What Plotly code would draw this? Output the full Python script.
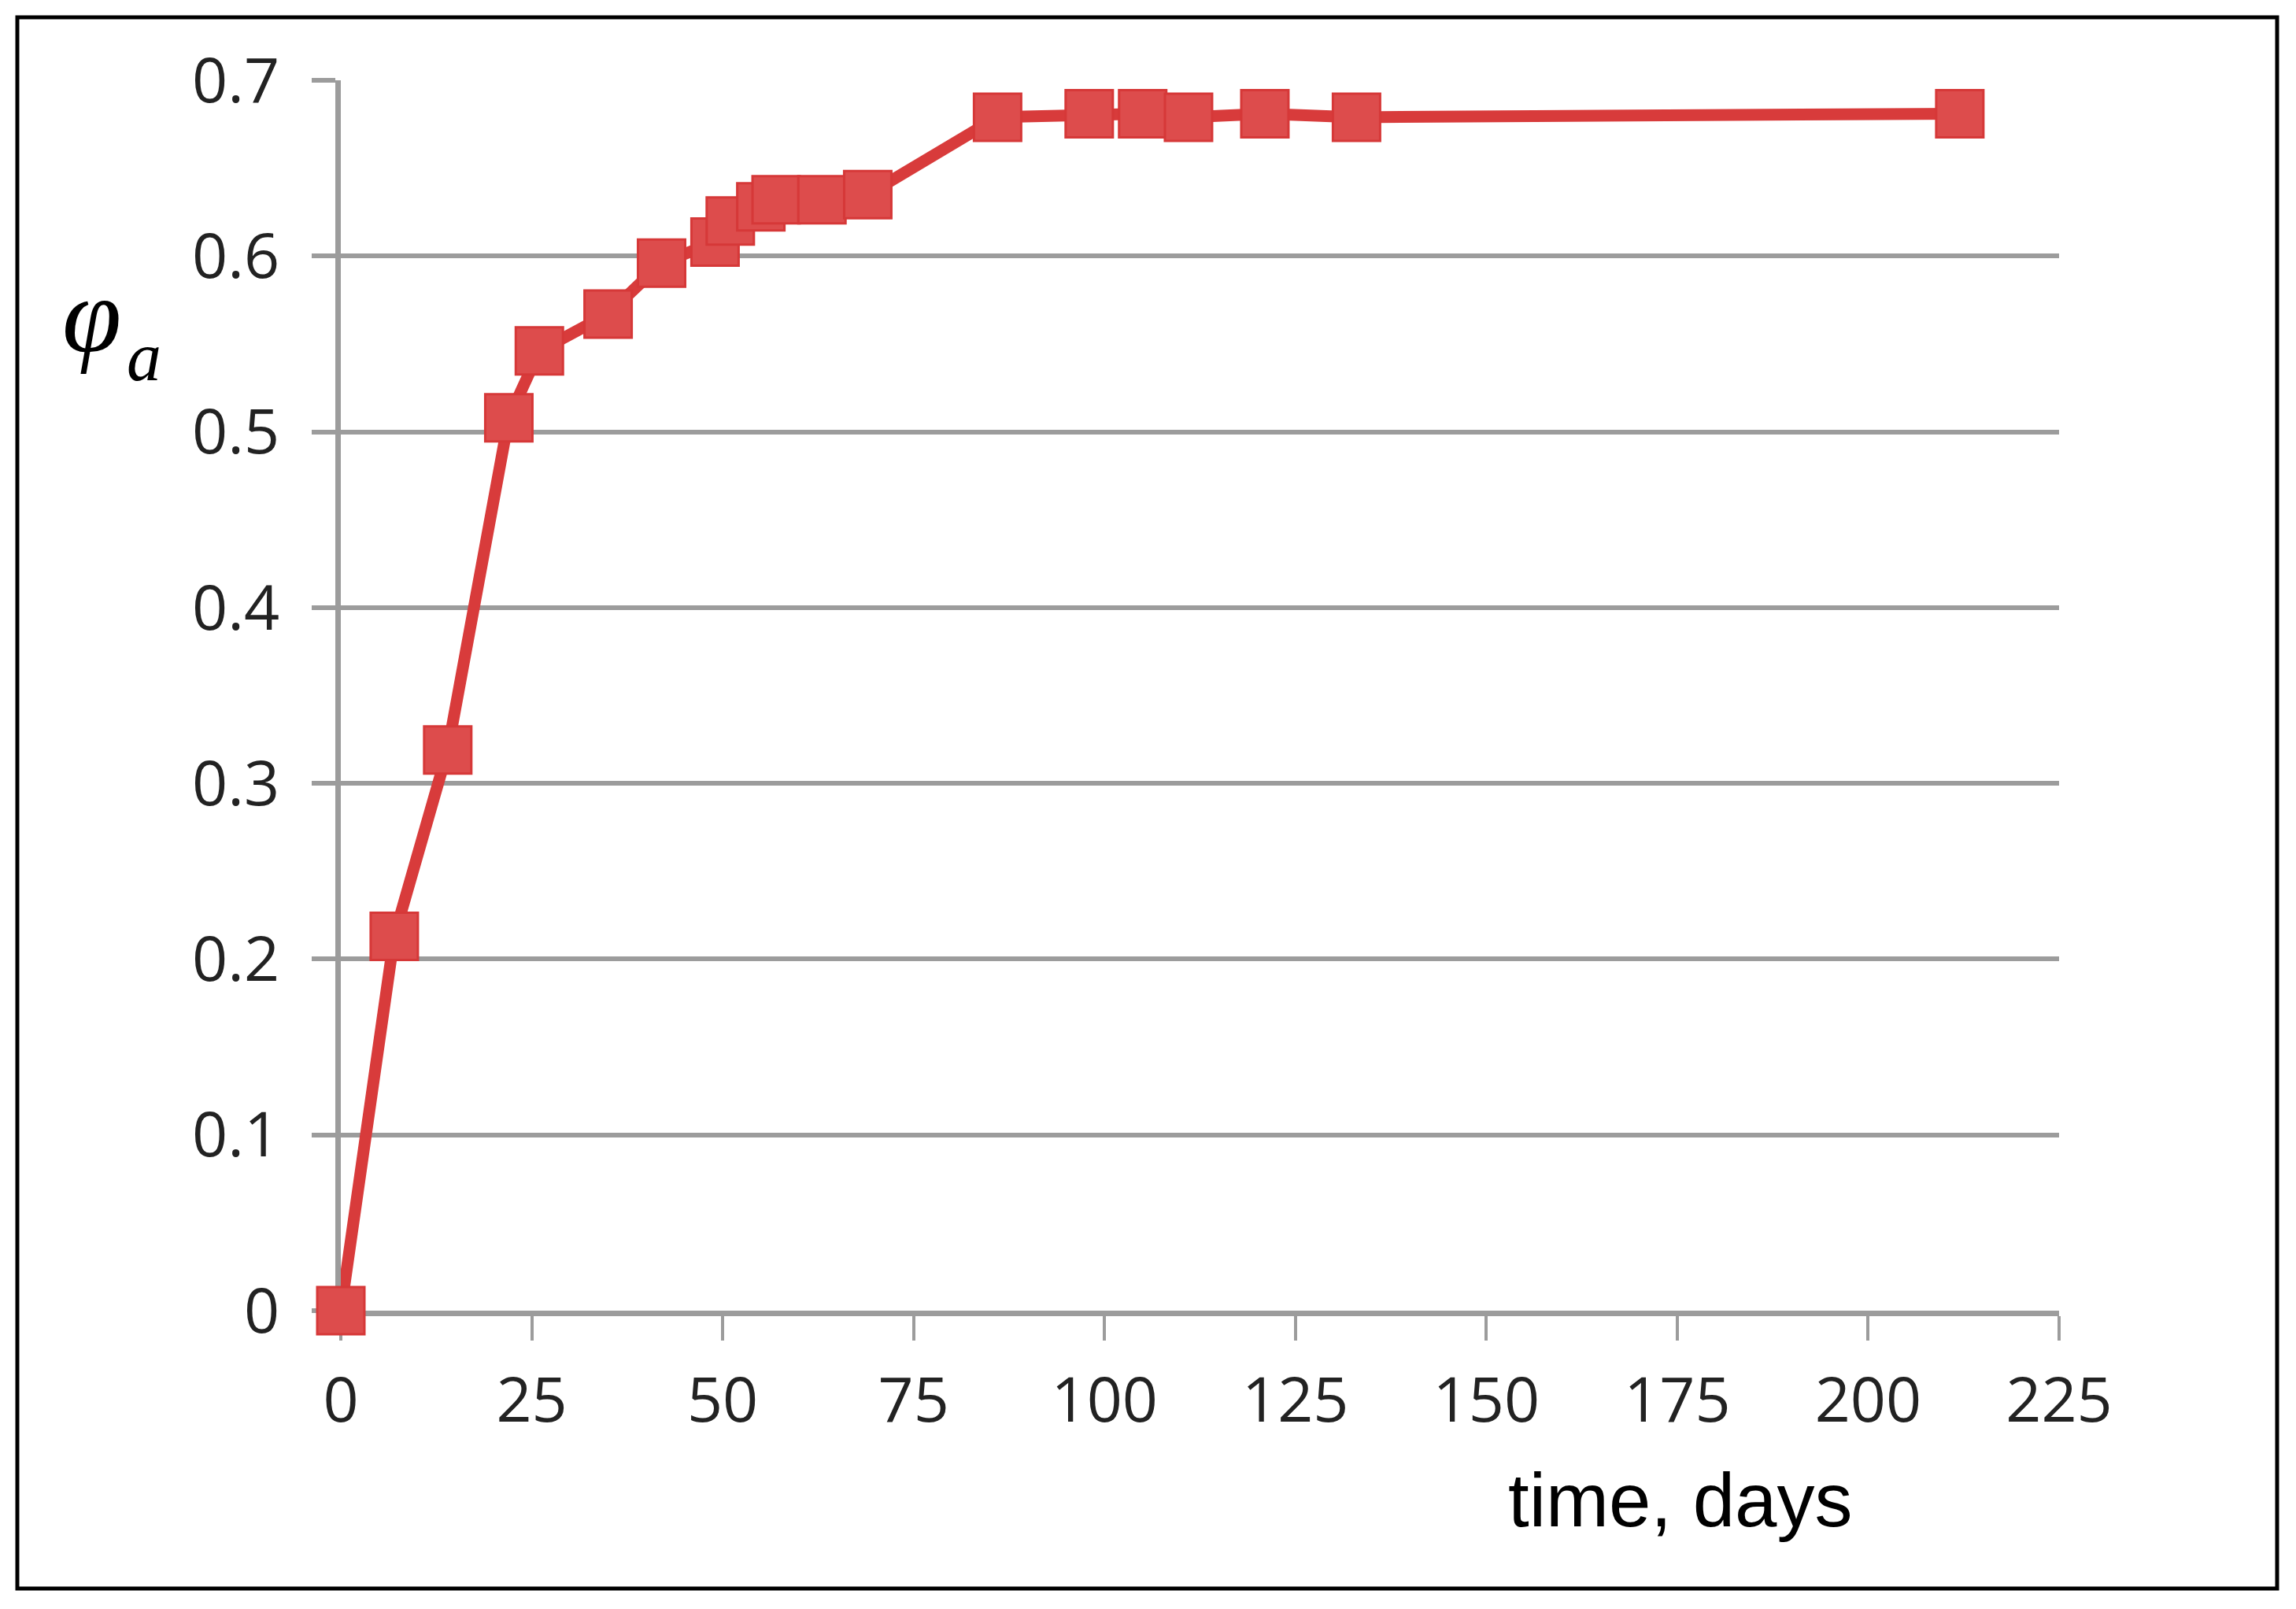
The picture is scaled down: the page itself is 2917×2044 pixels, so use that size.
import plotly.graph_objects as go

# Data
time_days = [0, 7, 14, 22, 26, 35, 42, 49, 51, 55, 57, 63, 69, 86, 98, 105, 111, 121, 133, 212]
phi_a = [0.0, 0.213, 0.319, 0.508, 0.546, 0.567, 0.596, 0.608, 0.620, 0.628, 0.632, 0.632,
         0.635, 0.679, 0.681, 0.681, 0.679, 0.681, 0.679, 0.681]
x_ticks = [0, 25, 50, 75, 100, 125, 150, 175, 200, 225]
y_ticks = [0, 0.1, 0.2, 0.3, 0.4, 0.5, 0.6, 0.7]
y_tick_labels = ["0", "0.1", "0.2", "0.3", "0.4", "0.5", "0.6", "0.7"]

# page body has an 8px margin; work in figure coordinates
O = 8
W, H = 2917 - 2 * O, 2044 - 2 * O
PL, PR, PT, PB = 433 - O, 2616 - O, 102 - O, 1665 - O  # plot-area edges in figure px
L, R, T, B = PL, W - PR, PT, H - PB
PW, PH = PR - PL, PB - PT


def px_x(px):
    return (px - O - PL) / PW


def px_y(py):
    return (PB - (py - O)) / PH


grid_col = "#9c9c9c"
tick_font = dict(family="Open Sans", size=79, color="#222222")

fig = go.Figure()
fig.add_trace(go.Scatter(
    x=time_days, y=phi_a, mode="lines+markers",
    line=dict(color="#d83b3b", width=15),
    marker=dict(symbol="square", size=60, color="#dd4c4c",
                line=dict(color="#d63838", width=3)),
    cliponaxis=False, showlegend=False,
))

fig.update_layout(
    width=W, height=H,
    margin=dict(l=L, r=R, t=T, b=B, pad=0),
    paper_bgcolor="white", plot_bgcolor="white",
    xaxis=dict(
        range=[0, 225], tickmode="array", tickvals=x_ticks,
        ticktext=[str(v) for v in x_ticks],
        showgrid=False, zeroline=False,
        showline=True, linecolor=grid_col, linewidth=7,
        ticks="outside", ticklen=31, tickwidth=4, tickcolor=grid_col,
        tickfont=tick_font, ticklabelstandoff=8,
        layer="below traces",
    ),
    yaxis=dict(
        range=[0, 0.7], tickmode="array", tickvals=y_ticks, ticktext=y_tick_labels,
        showgrid=True, gridcolor=grid_col, gridwidth=6, zeroline=False,
        showline=True, linecolor=grid_col, linewidth=7,
        ticks="outside", ticklen=30, tickwidth=6, tickcolor=grid_col,
        tickfont=tick_font, ticklabelstandoff=25,
        layer="below traces",
    ),
    shapes=[dict(type="rect", xref="paper", yref="paper",
                 x0=px_x(22), x1=px_x(2893), y0=px_y(2018), y1=px_y(22),
                 line=dict(color="black", width=5), fillcolor="rgba(0,0,0,0)",
                 layer="above")],
    annotations=[
        dict(text="time, days", xref="paper", yref="paper",
             x=px_x(2134), y=px_y(1905), xanchor="center", yanchor="middle",
             showarrow=False, font=dict(family="Liberation Sans", size=96, color="black")),
        dict(text="<i>φ</i>", xref="paper", yref="paper",
             x=px_x(116), y=px_y(400), xanchor="center", yanchor="middle",
             showarrow=False, font=dict(family="Liberation Serif", size=136, color="black")),
        dict(text="<i>a</i>", xref="paper", yref="paper",
             x=px_x(183), y=px_y(453), xanchor="center", yanchor="middle",
             showarrow=False, font=dict(family="Liberation Serif", size=88, color="black")),
    ],
)

fig.write_html("out.html")
